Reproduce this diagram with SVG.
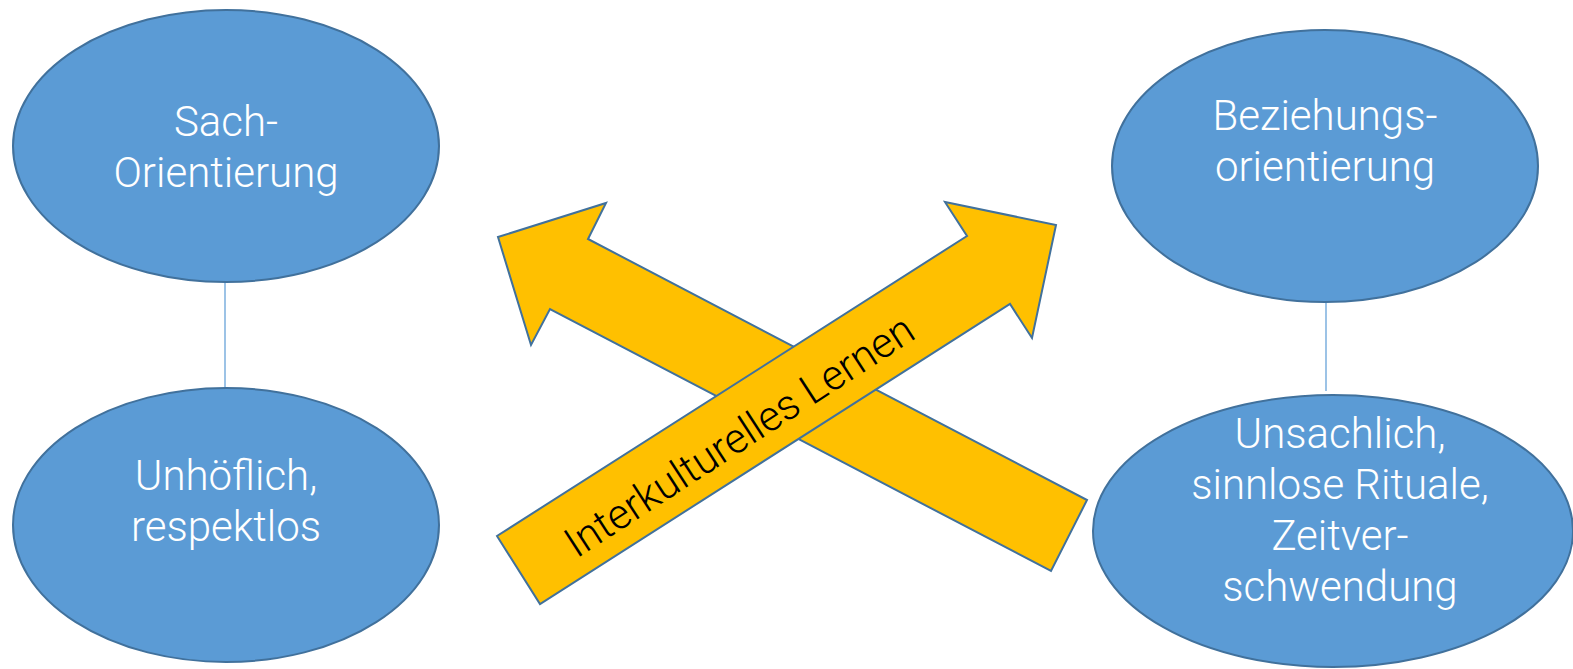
<svg xmlns="http://www.w3.org/2000/svg" width="1573" height="669" viewBox="0 0 1573 669">
<style>
.node{fill:#5B9BD5;stroke:#41719C;stroke-width:2}
.lbl{font-family:Roboto,"Liberation Sans",sans-serif;font-weight:300;font-size:42px;fill:#FFFFFF;text-anchor:middle}
.arrow{fill:#FFC000;stroke:#41719C;stroke-width:2;stroke-linejoin:miter}
.conn{stroke:#5B9BD5;stroke-width:1.2;fill:none}
.atext{font-family:Roboto,"Liberation Sans",sans-serif;font-weight:300;font-size:42px;fill:#000000;text-anchor:middle}
</style>
<rect width="1573" height="669" fill="#FFFFFF"/>
<g id="connectors">
<line class="conn" x1="225" y1="282" x2="225" y2="389"/>
<line class="conn" x1="1326" y1="301" x2="1326" y2="391"/>
</g>
<g id="arrow-left">
<polygon class="arrow" points="498,237 606,203 588,239 1087,500 1051,571 550,309 531,345"/>
</g>
<g id="arrow-right">
<polygon class="arrow" points="497,536 540,604 1010,304 1032,338 1056,225 945,202 967,236"/>
<text class="atext" transform="translate(747,448) rotate(-33)">Interkulturelles Lernen</text>
</g>
<g id="node-sach">
<ellipse class="node" cx="226" cy="146" rx="213" ry="136"/>
<text class="lbl" x="226" y="136">Sach-</text>
<text class="lbl" x="226" y="187">Orientierung</text>
</g>
<g id="node-unhoeflich">
<ellipse class="node" cx="226" cy="525" rx="213" ry="137"/>
<text class="lbl" x="226" y="490">Unhöflich,</text>
<text class="lbl" x="226" y="541">respektlos</text>
</g>
<g id="node-beziehung">
<ellipse class="node" cx="1325" cy="166" rx="213" ry="136"/>
<text class="lbl" x="1325" y="130">Beziehungs-</text>
<text class="lbl" x="1325" y="181">orientierung</text>
</g>
<g id="node-unsachlich">
<ellipse class="node" cx="1333" cy="531" rx="240" ry="136"/>
<text class="lbl" x="1340" y="448">Unsachlich,</text>
<text class="lbl" x="1340" y="499">sinnlose Rituale,</text>
<text class="lbl" x="1340" y="550">Zeitver-</text>
<text class="lbl" x="1340" y="601">schwendung</text>
</g>
</svg>
